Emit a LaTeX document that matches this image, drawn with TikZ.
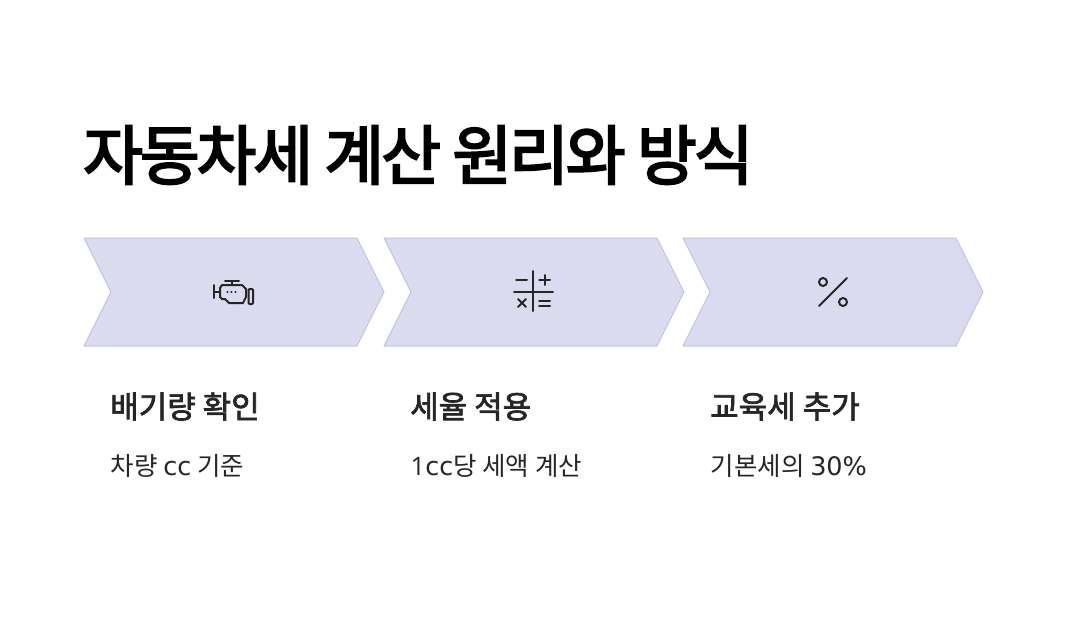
\documentclass[tikz,border=0pt]{standalone}
\usepackage{fontspec}
\setmainfont{Noto Sans CJK KR}
\newfontfamily\krbold[LetterSpace=-4.8,FakeBold=3.2]{Noto Sans CJK KR}
\newfontfamily\krhead[LetterSpace=0,FakeBold=2.2]{Noto Sans CJK KR}
\newfontfamily\krbody{Noto Sans CJK KR}
\newfontfamily\latinbody{DejaVu Sans}
\newfontfamily\latinone{Open Sans}
\definecolor{chevfill}{HTML}{DBDBEF}
\definecolor{chevline}{HTML}{C3C3DC}
\definecolor{inkdark}{HTML}{272525}
\tikzset{
 chev/.style={fill=chevfill,draw=chevline,line width=1pt,line join=round},
 iconline/.style={draw=inkdark,line width=2pt,line cap=round,line join=round},
 titletext/.style={anchor=west,inner sep=0pt,text=black,font=\krbold\fontsize{65}{65}\selectfont},
 headtext/.style={anchor=west,inner sep=0pt,text=inkdark,font=\krhead\fontsize{31}{31}\selectfont},
 bodytext/.style={anchor=west,inner sep=0pt,text=inkdark,font=\krbody\fontsize{25.5}{25.5}\selectfont}
}
\begin{document}
\begin{tikzpicture}[x=1pt,y=-1pt]
\useasboundingbox (0,0) rectangle (1072,632);
\fill[white] (0,0) rectangle (1072,632);
\node[titletext] (title) at (83,155) {자동차세 계산 원리와 방식};
\draw[chev] (84,238)--(357,238)--(384,292)--(357,346)--(84,346)--(111,292)--cycle;
\draw[chev] (384,238)--(657,238)--(684,292)--(657,346)--(384,346)--(411,292)--cycle;
\draw[chev] (683,238)--(956,238)--(983,292)--(956,346)--(683,346)--(710,292)--cycle;
% engine
\draw[iconline] (214,285)--(214,298) (214,292)--(220,292);
\draw[iconline] (225,281)--(239,281) (232,281)--(232,285);
\draw[iconline] (220,288) -- (222,285) -- (242,285) -- (246,289) -- (246,297) -- (243,303) -- (229,303) -- (225,299) -- (222,299) -- (220,297) -- cycle;
\draw[iconline,rounded corners=1pt] (248.5,289) rectangle (253,304);
\fill[inkdark] (227.5,292) circle (1.2pt) (231.5,292) circle (1.2pt) (235.5,292) circle (1.2pt);
% math
\draw[iconline] (533,271)--(533,311) (514,292)--(553,292);
\draw[iconline] (516,280)--(527,280);
\draw[iconline] (539,280)--(550,280) (544.5,275)--(544.5,285);
\draw[iconline] (518,299)--(526,307) (526,299)--(518,307);
\draw[iconline] (539,301)--(550,301) (539,306)--(550,306);
% percent
\draw[iconline] (819,306)--(847,278);
\draw[iconline] (823,282) circle (4);
\draw[iconline] (843,302) circle (4);
\node[headtext] (h1) at (110,406.5) {배기량 확인};
\node[headtext] (h2) at (410,406.5) {세율 적용};
\node[headtext] (h3) at (710,406.5) {교육세 추가};
\node[bodytext] (b1) at (110.5,466) {차량 {\latinbody cc} 기준};
\node[bodytext] (b2) at (410.5,466) {{\latinone 1}{\latinbody cc}당 세액 계산};
\node[bodytext] (b3) at (710.5,466) {기본세의 {\latinbody 30\%}};
\end{tikzpicture}
\end{document}
